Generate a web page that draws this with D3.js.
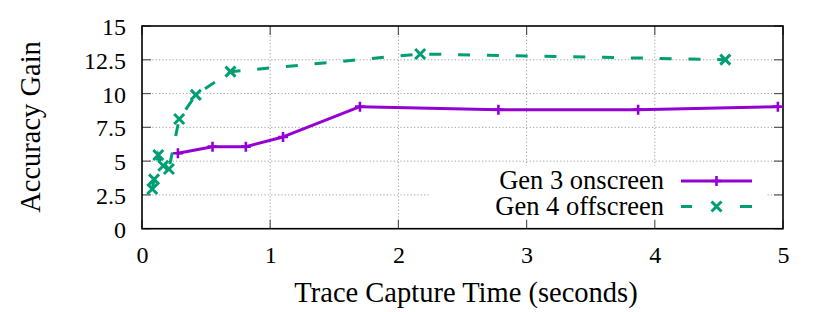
<!DOCTYPE html>
<html>
<head>
<meta charset="utf-8">
<script src="https://cdn.jsdelivr.net/npm/d3@7"></script>
<style>
  html, body { margin: 0; padding: 0; background: #fff; }
  svg { display: block; }
</style>
</head>
<body>
<svg id="chart" width="830" height="312"></svg>
<script>
// ---- data ----
const xTicks = [0, 1, 2, 3, 4, 5];
const yTicks = [0, 2.5, 5, 7.5, 10, 12.5, 15];
const yTickLabels = ["0", "2.5", "5", "7.5", "10", "12.5", "15"];
const seriesNames = ["Gen 3 onscreen", "Gen 4 offscreen"];
const gen3X = [0.28, 0.55, 0.81, 1.10, 1.70, 2.78, 3.87, 4.96];
const gen3Y = [5.58, 6.07, 6.07, 6.79, 9.03, 8.81, 8.81, 9.03];
const gen4X = [0.08, 0.094, 0.127, 0.166, 0.21, 0.29, 0.42, 0.69, 2.17, 4.55];
const gen4Y = [2.94, 3.65, 5.45, 4.66, 4.42, 8.12, 9.90, 11.62, 12.93, 12.51];
const xTitle = "Trace Capture Time (seconds)";
const yTitle = "Accuracy Gain";

// ---- layout ----
const FONT = "Times, serif";
const L = 142, R = 783, T = 26, B = 228.7;
const purple = "#9400d3", green = "#009e73";

const svg = d3.select("#chart");
const x = d3.scaleLinear().domain([0, 5]).range([L, R]);
const y = d3.scaleLinear().domain([0, 15]).range([B, T]);

function styleText(sel, size) {
  sel.style("font-family", FONT).style("font-size", size + "px").style("fill", "#000");
}

// grid
const grid = svg.append("g");
grid.selectAll(".gx").data(xTicks.slice(1, -1)).join("line")
  .attr("x1", d => x(d)).attr("x2", d => x(d)).attr("y1", T).attr("y2", B)
  .attr("stroke", "#a0a0a0").attr("stroke-width", 1).attr("stroke-dasharray", "1.2,2.2");
grid.selectAll(".gy").data(yTicks.slice(1, -1)).join("line")
  .attr("x1", L).attr("x2", R).attr("y1", d => y(d)).attr("y2", d => y(d))
  .attr("stroke", "#a0a0a0").attr("stroke-width", 1).attr("stroke-dasharray", "1.2,2.2");

// legend background (hides grid)
svg.append("rect").attr("x", 430).attr("y", 166).attr("width", 337).attr("height", B - 166)
  .attr("fill", "#fff");

// ticks (inward, mirrored)
const tk = svg.append("g").attr("stroke", "#555").attr("stroke-width", 1.2);
xTicks.forEach(d => {
  tk.append("line").attr("x1", x(d)).attr("x2", x(d)).attr("y1", B).attr("y2", B - 9);
  tk.append("line").attr("x1", x(d)).attr("x2", x(d)).attr("y1", T).attr("y2", T + 9);
});
yTicks.forEach(d => {
  tk.append("line").attr("x1", L).attr("x2", L + 9).attr("y1", y(d)).attr("y2", y(d));
  tk.append("line").attr("x1", R).attr("x2", R - 9).attr("y1", y(d)).attr("y2", y(d));
});

// frame
svg.append("rect").attr("x", L).attr("y", T).attr("width", R - L).attr("height", B - T)
  .attr("fill", "none").attr("stroke", "#000").attr("stroke-width", 1.6);

// tick labels
const xAxis = d3.axisBottom(x).tickValues(xTicks).tickSize(0).tickPadding(0).tickFormat(d3.format("d"));
const gx = svg.append("g").attr("transform", `translate(0,${B})`).call(xAxis);
gx.select(".domain").remove();
gx.attr("font-family", null).attr("font-size", null);
gx.selectAll("text").attr("dy", null).attr("y", 34).call(styleText, 24);

const yAxis = d3.axisLeft(y).tickValues(yTicks).tickSize(0).tickPadding(0)
  .tickFormat((d, i) => yTickLabels[i]);
const gy = svg.append("g").attr("transform", `translate(126,0)`).call(yAxis);
gy.select(".domain").remove();
gy.attr("font-family", null).attr("font-size", null);
gy.selectAll("text").attr("dy", null).attr("x", 0).attr("y", 8.5).call(styleText, 24);

// titles
svg.append("text").attr("x", 466).attr("y", 302).attr("text-anchor", "middle")
  .call(styleText, 28.5).text(xTitle);
svg.append("text").attr("transform", `translate(40,127) rotate(-90)`).attr("text-anchor", "middle")
  .call(styleText, 28.5).text(yTitle);

// series
const line = d3.line().x(d => x(d[0])).y(d => y(d[1]));
const g3 = gen3X.map((v, i) => [v, gen3Y[i]]);
const g4 = gen4X.map((v, i) => [v, gen4Y[i]]);

function plus(sel, px, py, c) {
  sel.append("path").attr("d", `M${px - 5},${py}h10M${px},${py - 5}v10`)
    .attr("stroke", c).attr("stroke-width", 2.6).attr("fill", "none");
}
function cross(sel, px, py, c) {
  const s = 5;
  sel.append("path").attr("d", `M${px - s},${py - s}L${px + s},${py + s}M${px - s},${py + s}L${px + s},${py - s}`)
    .attr("stroke", c).attr("stroke-width", 3).attr("fill", "none");
}

const s1 = svg.append("g");
s1.append("path").datum(g3).attr("d", line).attr("fill", "none")
  .attr("stroke", purple).attr("stroke-width", 3).attr("stroke-linejoin", "round");
g3.forEach(d => plus(s1, x(d[0]), y(d[1]), purple));

const s2 = svg.append("g");
s2.append("path").datum(g4).attr("d", line).attr("fill", "none")
  .attr("stroke", green).attr("stroke-width", 3).attr("stroke-dasharray", "12,16.8");
g4.forEach(d => cross(s2, x(d[0]), y(d[1]), green));

// legend
const lg = svg.append("g");
lg.append("text").attr("x", 664).attr("y", 189).attr("text-anchor", "end").call(styleText, 26.5).text(seriesNames[0]);
lg.append("text").attr("x", 664).attr("y", 215).attr("text-anchor", "end").call(styleText, 26.5).text(seriesNames[1]);
lg.append("line").attr("x1", 681).attr("x2", 752).attr("y1", 181).attr("y2", 181)
  .attr("stroke", purple).attr("stroke-width", 3);
plus(lg, 716.5, 181, purple);
lg.append("line").attr("x1", 681).attr("x2", 752).attr("y1", 206.5).attr("y2", 206.5)
  .attr("stroke", green).attr("stroke-width", 3).attr("stroke-dasharray", "11,48,12");
cross(lg, 716.5, 206.5, green);
</script>
</body>
</html>
